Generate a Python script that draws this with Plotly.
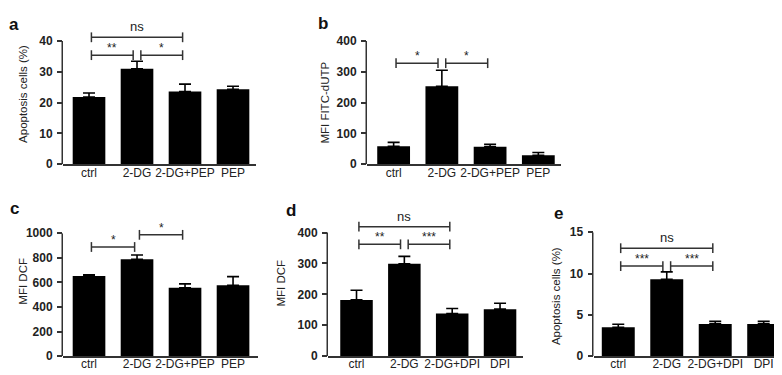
import plotly.graph_objects as go

# ---------------- data ----------------
cats_pep = ["ctrl", "2-DG", "2-DG+PEP", "PEP"]
cats_dpi = ["ctrl", "2-DG", "2-DG+DPI", "DPI"]

a_mean = [21.8, 31.0, 23.6, 24.3]
a_err = [1.3, 2.4, 2.4, 1.0]
b_mean = [58, 253, 57, 29]
b_err = [13, 52, 8, 9]
c_mean = [652, 788, 556, 577]
c_err = [10, 35, 32, 70]
d_mean = [182, 299, 138, 152]
d_err = [31, 24, 16, 19]
e_mean = [3.5, 9.3, 3.9, 3.9]
e_err = [0.35, 0.9, 0.3, 0.3]

a_ticks = [0, 10, 20, 30, 40]
b_ticks = [0, 100, 200, 300, 400]
c_ticks = [0, 200, 400, 600, 800, 1000]
d_ticks = [0, 100, 200, 300, 400]
e_ticks = [0, 5, 10, 15]

# comparisons: (group i, group j, label, bracket height)
a_cmp = [(0, 2, "ns", 41.2), (0, 1, "**", 35.4), (1, 2, "*", 35.4)]
b_cmp = [(0, 1, "*", 328), (1, 2, "*", 328)]
c_cmp = [(0, 1, "*", 888), (1, 2, "*", 987)]
d_cmp = [(0, 2, "ns", 419), (0, 1, "**", 362), (1, 2, "***", 362)]
e_cmp = [(0, 2, "ns", 13.07), (0, 1, "***", 10.9), (1, 2, "***", 10.9)]

titles = ["Apoptosis cells (%)", "MFI FITC-dUTP", "MFI DCF", "MFI DCF", "Apoptosis cells (%)"]
letters = ["a", "b", "c", "d", "e"]

# ---------------- layout geometry ----------------
W, H = 782, 375
panels = [
    dict(cats=cats_pep, m=a_mean, e=a_err, ticks=a_ticks, cmp=a_cmp, yr=[0, 42.5], lab_off=-3,
         xpx=(55, 248), ypx=(155, 19), xr=[-0.542, 3.479], title_xy=(15, 82), letter_xy=(6, 10)),
    dict(cats=cats_pep, m=b_mean, e=b_err, ticks=b_ticks, cmp=b_cmp, yr=[0, 400], lab_off=-3,
         xpx=(359, 553), ypx=(155, 27), xr=[-0.552, 3.47], title_xy=(317, 91), letter_xy=(315, 9)),
    dict(cats=cats_pep, m=c_mean, e=c_err, ticks=c_ticks, cmp=c_cmp, yr=[0, 1000], lab_off=-4,
         xpx=(55, 250), ypx=(354.3, 226.7), xr=[-0.542, 3.52], title_xy=(15, 277), letter_xy=(6, 201)),
    dict(cats=cats_dpi, m=d_mean, e=d_err, ticks=d_ticks, cmp=d_cmp, yr=[0, 425], lab_off=-4,
         xpx=(320, 515), ypx=(354.3, 218.0), xr=[-0.596, 3.48], title_xy=(273, 279), letter_xy=(283, 203)),
    dict(cats=cats_dpi, m=e_mean, e=e_err, ticks=e_ticks, cmp=e_cmp, yr=[0, 15], lab_off=-4,
         xpx=(585.5, 778), ypx=(354.3, 225.7), xr=[-0.511, 3.46], title_xy=(548, 292), letter_xy=(550, 206)),
]

AX = "#333333"
TXT = "#222222"
FONT = "Liberation Sans, Arial, sans-serif"

fig = go.Figure()
shapes = []
annotations = []
layout = {}

for k, p in enumerate(panels):
    sfx = "" if k == 0 else str(k + 1)
    xa, ya = "x" + sfx, "y" + sfx
    xs = list(range(len(p["cats"])))
    fig.add_trace(go.Bar(
        x=xs, y=p["m"], xaxis=xa, yaxis=ya, width=0.68,
        marker=dict(color="black", line=dict(width=0)),
        error_y=dict(type="data", array=p["e"], arrayminus=[0] * len(p["e"]),
                     symmetric=False, color="black", thickness=1.6, width=6),
        showlegend=False, hoverinfo="skip"))

    # significance brackets
    for (i, j, lab, yv) in p["cmp"]:
        shared_i = any((c[0] == i or c[1] == i) and c[3] == yv and (c[0], c[1]) != (i, j)
                       for c in p["cmp"])
        shared_j = any((c[0] == j or c[1] == j) and c[3] == yv and (c[0], c[1]) != (i, j)
                       for c in p["cmp"])
        x0 = i + 0.05 + (0.03 if shared_i else 0)
        x1 = j - 0.05 - (0.03 if shared_j else 0)
        fig.add_trace(go.Scatter(
            x=[x0, x1], y=[yv, yv], xaxis=xa, yaxis=ya, mode="lines+markers",
            line=dict(color=AX, width=1.5),
            marker=dict(symbol="line-ns", size=7, line=dict(color=AX, width=1.5)),
            cliponaxis=False, showlegend=False, hoverinfo="skip"))
        annotations.append(dict(
            x=(x0 + x1) / 2, y=yv, xref=xa, yref=ya, text=lab, showarrow=False,
            yanchor="bottom", yshift=(1 if lab == "ns" else -2),
            font=dict(family=FONT, size=(13 if lab == "ns" else 12), color=TXT)))

    xd = [p["xpx"][0] / W, p["xpx"][1] / W]
    yd = [1 - p["ypx"][0] / H, 1 - p["ypx"][1] / H]
    layout["xaxis" + sfx] = dict(
        domain=xd, range=p["xr"], anchor=ya, tickvals=xs, ticktext=p["cats"],
        showline=True, linecolor=AX, linewidth=1.5, ticks="", showgrid=False,
        zeroline=False, tickfont=dict(family=FONT, size=12, color=TXT),
        ticklabelstandoff=p["lab_off"], fixedrange=True)
    layout["yaxis" + sfx] = dict(
        domain=yd, range=p["yr"], anchor=xa, tickvals=p["ticks"],
        showline=False, ticks="outside", ticklen=5, tickwidth=1.5, tickcolor=AX,
        showgrid=False, zeroline=False,
        tickfont=dict(family=FONT, size=12, color=TXT, weight="bold"),
        ticklabelstandoff=2, fixedrange=True)
    # y-axis line up to the top tick
    shapes.append(dict(type="line", xref="paper", yref=ya, x0=xd[0] - 0.75 / W, x1=xd[0] - 0.75 / W,
                       y0=0, y1=max(p["ticks"]), line=dict(color=AX, width=1.5)))
    # axis title
    tx, ty = p["title_xy"]
    annotations.append(dict(x=tx / W, y=1 - ty / H, xref="paper", yref="paper", text=titles[k],
                            textangle=-90, showarrow=False, xanchor="center", yanchor="middle",
                            font=dict(family=FONT, size=11.5, color=TXT)))
    lx, ly = p["letter_xy"]
    annotations.append(dict(x=lx / W, y=1 - ly / H, xref="paper", yref="paper", text="<b>" + letters[k] + "</b>",
                            showarrow=False, xanchor="center", yanchor="middle",
                            font=dict(family=FONT, size=17, color="#111111")))

fig.update_layout(
    width=W, height=H, margin=dict(l=0, r=0, t=0, b=0),
    paper_bgcolor="white", plot_bgcolor="white",
    shapes=shapes, annotations=annotations, bargap=0.3, **layout)

fig.write_html("out.html")
